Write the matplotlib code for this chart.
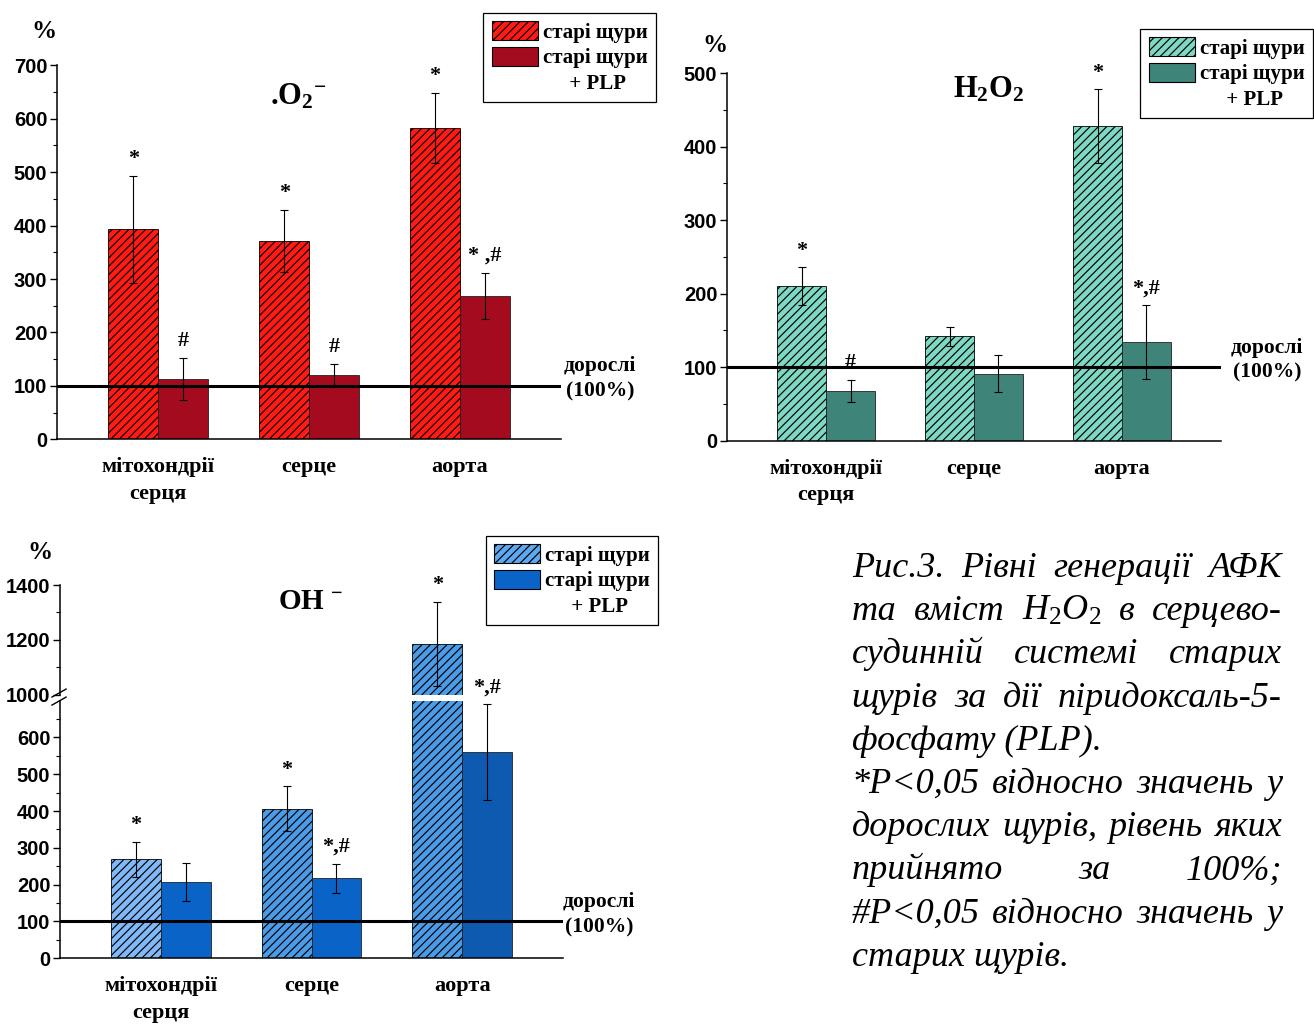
"""Fig. 3: ROS generation and H2O2 content in old rats with/without PLP."""

import matplotlib
import matplotlib.pyplot as plt
import numpy as np
from matplotlib.patches import Patch
from matplotlib.transforms import IdentityTransform, blended_transform_factory

matplotlib.use("Agg")

plt.rcParams["mathtext.fontset"] = "custom"
plt.rcParams["mathtext.rm"] = "Liberation Serif"
plt.rcParams["mathtext.it"] = "Liberation Serif:italic"
plt.rcParams["mathtext.bf"] = "Liberation Serif:bold"
plt.rcParams["hatch.linewidth"] = 0.85

CATEGORIES = ["мітохондрії\nсерця", "серце", "аорта"]
LEGEND_LABELS = ["старі щури", "старі щури", "     + PLP"]
BASELINE_LABEL = "дорослі\n(100%)"

# superoxide, % of adult level
O2_OLD = [393, 372, 583]
O2_OLD_ERR = [100, 58, 65]
O2_PLP = [113, 120, 269]
O2_PLP_ERR = [40, 21, 43]
O2_OLD_MARKS = ["*", "*", "*"]
O2_PLP_MARKS = ["#", "#", "* ,#"]

# hydrogen peroxide
H2O2_OLD = [210, 142, 428]
H2O2_OLD_ERR = [26, 13, 50]
H2O2_PLP = [68, 91, 134]
H2O2_PLP_ERR = [15, 25, 50]
H2O2_OLD_MARKS = ["*", "", "*"]
H2O2_PLP_MARKS = ["#", "", "*,#"]

# hydroxyl radical
OH_OLD = [269, 407, 1185]
OH_OLD_ERR = [48, 60, 154]
OH_PLP = [207, 217, 561]
OH_PLP_ERR = [51, 40, 130]
OH_OLD_MARKS = ["*", "*", "*"]
OH_PLP_MARKS = ["", "*,#", "*,#"]

CAPTION_LINES = [
    ("Рис.3. Рівні генерації АФК", True),
    (r"та вміст $\mathit{H_2O_2}$ в серцево-", True),
    ("судинній системі старих", True),
    ("щурів за дії піридоксаль-5-", True),
    ("фосфату (PLP).", False),
    ("*P<0,05 відносно значень у", True),
    ("дорослих щурів, рівень яких", True),
    ("прийнято за 100%;", True),
    ("#P<0,05 відносно значень у", True),
    ("старих щурів.", False),
]

BAR_W = 0.33
SANS = ["Liberation Sans", "DejaVu Sans"]
SERIF = ["Liberation Serif", "DejaVu Serif"]


def draw_bars(ax, old, old_err, plp, plp_err, old_colors, plp_colors):
    x = np.arange(1, len(CATEGORIES) + 1)
    ax.bar(x - BAR_W / 2, old, BAR_W, color=old_colors, edgecolor="black",
           linewidth=0.6, hatch="////")
    ax.bar(x + BAR_W / 2, plp, BAR_W, color=plp_colors, edgecolor="#222222",
           linewidth=0.6)
    for xs, vals, errs in ((x - BAR_W / 2, old, old_err), (x + BAR_W / 2, plp, plp_err)):
        ax.errorbar(xs, vals, yerr=errs, fmt="none", ecolor="black",
                    elinewidth=0.8, capsize=3, capthick=0.8)


def add_marks(ax, vals, errs, marks, shift):
    x = np.arange(1, len(CATEGORIES) + 1) + shift
    for xi, v, e, m in zip(x, vals, errs, marks):
        if not m:
            continue
        ax.annotate(m, xy=(xi, v + e), xytext=(0, 12), textcoords="offset points",
                    ha="center", va="center", fontsize=16, fontweight="bold",
                    family=SERIF, annotation_clip=False)


def style_y(ax, ylim, majors, minors):
    ax.set_ylim(*ylim)
    ax.set_xlim(0.33, 3.67)
    ax.set_yticks(majors)
    ax.set_yticks(minors, minor=True)
    ax.spines["top"].set_visible(False)
    ax.spines["right"].set_visible(False)
    ax.spines["left"].set_linewidth(1.1)
    ax.spines["bottom"].set_linewidth(1.1)
    ax.tick_params(axis="y", which="major", direction="out", length=5, width=1,
                   labelsize=14.5, pad=2)
    ax.tick_params(axis="y", which="minor", direction="out", length=3, width=0.8)
    for lab in ax.get_yticklabels():
        lab.set_fontweight("bold")
        lab.set_family(SANS)


def style_x(ax):
    ax.set_xticks([1, 2, 3])
    ax.set_xticklabels(CATEGORIES, fontsize=16, fontweight="bold", family=SERIF,
                       linespacing=1.45)
    ax.set_xticks([2], minor=True)
    ax.tick_params(axis="x", which="major", length=0, pad=13)
    ax.tick_params(axis="x", which="minor", length=7, width=1, direction="out")


def add_baseline(ax, dx):
    ax.axhline(100, color="black", linewidth=2.2, zorder=5)
    tr = blended_transform_factory(ax.transAxes, ax.transData)
    ax.annotate(BASELINE_LABEL, xy=(1, 100), xycoords=tr, xytext=(dx, 5),
                textcoords="offset points", ha="center", va="center",
                multialignment="center", fontsize=15.5, fontweight="bold",
                family=SERIF, linespacing=1.35, annotation_clip=False)


def add_legend(fig, old_color, plp_color, anchor):
    handles = [
        Patch(facecolor=old_color, edgecolor="black", hatch="////", linewidth=0.8),
        Patch(facecolor=plp_color, edgecolor="black", linewidth=0.8),
        Patch(facecolor="none", edgecolor="none"),
    ]
    leg = fig.legend(handles, LEGEND_LABELS, loc="upper right", bbox_to_anchor=anchor,
                     bbox_transform=fig.transFigure, frameon=True, fancybox=False,
                     edgecolor="black", framealpha=1, borderaxespad=0,
                     handlelength=2.2, handleheight=1.0, handletextpad=0.25,
                     labelspacing=0.2, borderpad=0.4,
                     prop={"family": SERIF, "weight": "bold", "size": 15})
    leg.get_frame().set_linewidth(0.9)
    return leg


fig = plt.figure(figsize=(13.14, 10.25), dpi=100)

# top-left: superoxide
ax1 = fig.add_axes([0.0434, 0.5714, 0.3836, 0.3649])
draw_bars(ax1, O2_OLD, O2_OLD_ERR, O2_PLP, O2_PLP_ERR, "#FF1A14", "#A50B1E")
add_marks(ax1, O2_OLD, O2_OLD_ERR, O2_OLD_MARKS, -BAR_W / 2)
add_marks(ax1, O2_PLP, O2_PLP_ERR, O2_PLP_MARKS, BAR_W / 2)
style_y(ax1, (0, 700), range(0, 701, 100), range(50, 700, 100))
style_x(ax1)
add_baseline(ax1, 28)
ax1.text(0.478, 0.915, r".O$_{\mathbf{2}}$$^{\mathbf{-}}$", transform=ax1.transAxes,
         ha="center", va="center", fontsize=22, fontweight="bold", family=SERIF)
ax1.text(-0.026, 1.09, "%", transform=ax1.transAxes, ha="center", va="center",
         fontsize=18, fontweight="bold", family=SERIF)
add_legend(fig, "#FF1A14", "#A50B1E", (0.4992, 0.9873))

# top-right: hydrogen peroxide
ax2 = fig.add_axes([0.5533, 0.5701, 0.376, 0.3584])
draw_bars(ax2, H2O2_OLD, H2O2_OLD_ERR, H2O2_PLP, H2O2_PLP_ERR, "#7DD8C4", "#3F8479")
add_marks(ax2, H2O2_OLD, H2O2_OLD_ERR, H2O2_OLD_MARKS, -BAR_W / 2)
add_marks(ax2, H2O2_PLP, H2O2_PLP_ERR, H2O2_PLP_MARKS, BAR_W / 2)
style_y(ax2, (0, 500), range(0, 501, 100), range(50, 500, 100))
style_x(ax2)
add_baseline(ax2, 33)
ax2.text(0.53, 0.957, r"$\mathbf{H_2O_2}$", transform=ax2.transAxes,
         ha="center", va="center", fontsize=22)
ax2.text(-0.025, 1.075, "%", transform=ax2.transAxes, ha="center", va="center",
         fontsize=18, fontweight="bold", family=SERIF)
add_legend(fig, "#7DD8C4", "#3F8479", (0.9992, 0.9717))

# bottom-left: hydroxyl radical, broken y axis
oh_old_colors = ["#80B8F8", "#4A9BE8", "#4A9BE8"]
oh_plp_colors = ["#0A64C8", "#0A64C8", "#0D5AB0"]
ax3 = fig.add_axes([0.0457, 0.0651, 0.3828, 0.2513])
ax3u = fig.add_axes([0.0457, 0.3222, 0.3828, 0.107])
for ax in (ax3, ax3u):
    draw_bars(ax, OH_OLD, OH_OLD_ERR, OH_PLP, OH_PLP_ERR, oh_old_colors, oh_plp_colors)
style_y(ax3, (0, 700), range(0, 601, 100), range(50, 700, 100))
style_y(ax3u, (1000, 1400), range(1000, 1401, 200), range(1100, 1400, 200))
style_x(ax3)
ax3u.spines["bottom"].set_visible(False)
ax3u.set_xticks([])
ax3u.set_xticks([], minor=True)
ax3u.patch.set_alpha(0)
add_baseline(ax3, 26)

oh_tops = np.array(OH_OLD) + np.array(OH_OLD_ERR)
for i, m in enumerate(OH_OLD_MARKS):
    target = ax3u if oh_tops[i] > 1000 else ax3
    add_marks(target, [OH_OLD[i] if j == i else 0 for j in range(3)],
              [OH_OLD_ERR[i] if j == i else 0 for j in range(3)],
              [m if j == i else "" for j in range(3)], -BAR_W / 2)
add_marks(ax3, OH_PLP, OH_PLP_ERR, OH_PLP_MARKS, BAR_W / 2)

brk = dict(color="black", linewidth=1.0, clip_on=False)
ax3u.plot([-0.016, 0.012], [-0.021, 0.052], transform=ax3u.transAxes, **brk)
ax3.plot([-0.016, 0.012], [0.983, 1.014], transform=ax3.transAxes, **brk)

ax3u.text(0.497, 0.854, r"$\mathbf{OH\ ^{-}}$", transform=ax3u.transAxes,
          ha="center", va="center", fontsize=21)
ax3u.text(-0.04, 1.3, "%", transform=ax3u.transAxes, ha="center", va="center",
          fontsize=18, fontweight="bold", family=SERIF)
add_legend(fig, "#5DA8F0", "#0A64C8", (0.5008, 0.4771))

# caption, justified line by line
fig.canvas.draw()
renderer = fig.canvas.get_renderer()
H = fig.bbox.height
x0, x1 = 852, 1282
cap_kw = dict(fontsize=26, style="italic", family=SERIF, va="baseline",
              transform=IdentityTransform())
for k, (line, justify) in enumerate(CAPTION_LINES):
    y = H - (577 + 43.2 * k)
    if not justify:
        fig.text(x0, y, line, ha="left", **cap_kw)
        continue
    words = line.split(" ")
    texts = [fig.text(0, y, w, ha="left", **cap_kw) for w in words]
    widths = [t.get_window_extent(renderer).width for t in texts]
    gap = (x1 - x0 - sum(widths)) / (len(words) - 1)
    pos = x0
    for t, w in zip(texts, widths):
        t.set_x(pos)
        pos += w + gap

fig.savefig("out.png", dpi=100)
